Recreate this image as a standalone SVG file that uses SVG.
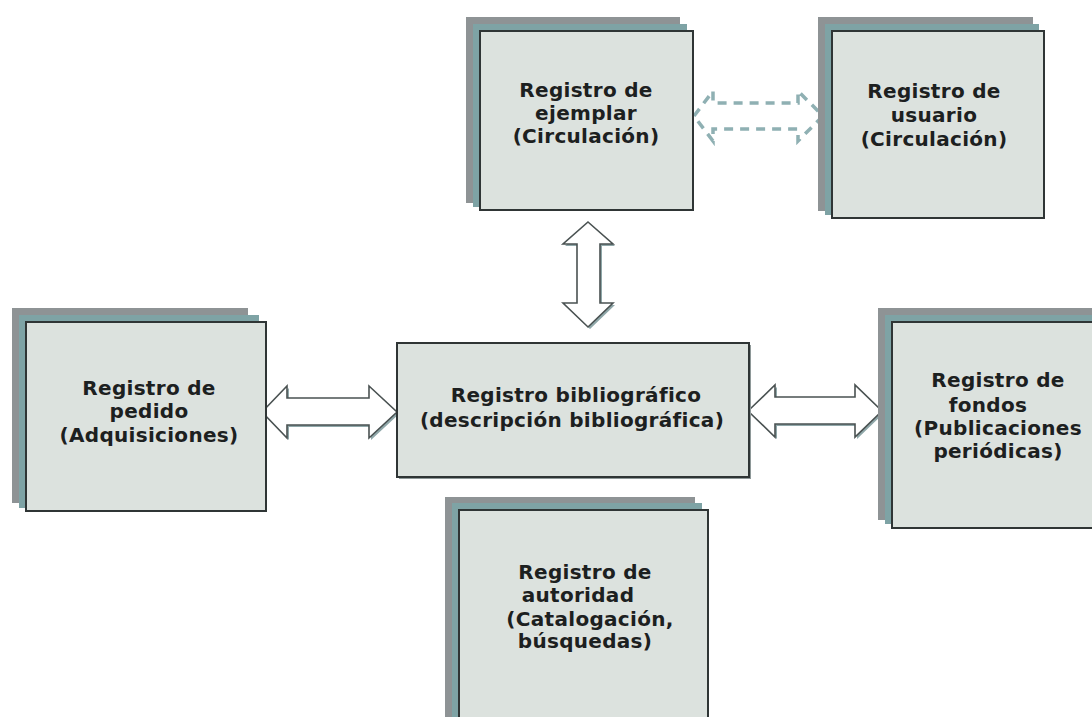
<svg xmlns="http://www.w3.org/2000/svg" width="1092" height="717" viewBox="0 0 1092 717">
<style>
.bg{fill:#ffffff}
.l1{fill:#8e9395}
.l2{fill:#7ea3a5}
.front{fill:#dce2de;stroke:#2f3535;stroke-width:2}
.t{font-family:"DejaVu Sans","Verdana",sans-serif;font-weight:bold;font-size:20px;letter-spacing:0.3px;fill:#1c2020;text-anchor:middle}
.arr{fill:#ffffff;stroke:#4a5252;stroke-width:1.6;stroke-linejoin:miter}
.arrsh{fill:#8fa7a9}
.dash{fill:none;stroke:#8fb0b3;stroke-width:3.5;stroke-dasharray:9 7}
</style>
<rect class="bg" x="0" y="0" width="1092" height="717"/>

<g id="connectors">
  <g id="arrow-vertical">
    <polygon class="arrsh" transform="translate(2,2)" points="588,222 613,244 600,244 600,303 613,303 588,327 563,303 577,303 577,244 563,244"/>
    <polygon class="arr" points="588,222 613,244 600,244 600,303 613,303 588,327 563,303 577,303 577,244 563,244"/>
  </g>
  <g id="arrow-left">
    <polygon class="arrsh" transform="translate(2,2)" points="262,412 287,386 287,398 369,398 369,386 397,412 369,438 369,425 287,425 287,438"/>
    <polygon class="arr" points="262,412 287,386 287,398 369,398 369,386 397,412 369,438 369,425 287,425 287,438"/>
  </g>
  <g id="arrow-right">
    <polygon class="arrsh" transform="translate(2,2)" points="748,411 775,385 775,397 855,397 855,385 882,411 855,437 855,424 775,424 775,437"/>
    <polygon class="arr" points="748,411 775,385 775,397 855,397 855,385 882,411 855,437 855,424 775,424 775,437"/>
  </g>
  <g id="arrow-dashed">
    <polygon class="dash" points="694,116 713,91 713,103 798,103 798,91 823,116 798,141 798,129 713,129 713,141"/>
  </g>
</g>

<g id="node-ejemplar">
  <rect class="l1" x="466" y="17" width="214" height="186"/>
  <rect class="l2" x="473" y="24" width="214" height="183"/>
  <rect class="front" x="480" y="31" width="213" height="179"/>
  <text class="t" x="586" y="97">Registro de</text>
  <text class="t" x="586" y="120">ejemplar</text>
  <text class="t" x="586" y="143">(Circulación)</text>
</g>

<g id="node-usuario">
  <rect class="l1" x="818" y="17" width="215" height="194"/>
  <rect class="l2" x="825" y="24" width="214" height="191"/>
  <rect class="front" x="832" y="31" width="212" height="187"/>
  <text class="t" x="934" y="98">Registro de</text>
  <text class="t" x="934" y="122">usuario</text>
  <text class="t" x="934" y="146">(Circulación)</text>
</g>

<g id="node-pedido">
  <rect class="l1" x="12" y="308" width="236" height="195"/>
  <rect class="l2" x="19" y="315" width="240" height="193"/>
  <rect class="front" x="26" y="322" width="240" height="189"/>
  <text class="t" x="149" y="395">Registro de</text>
  <text class="t" x="149" y="418">pedido</text>
  <text class="t" x="149" y="442">(Adquisiciones)</text>
</g>

<g id="node-bibliografico">
  <rect fill="#8e9898" x="399" y="345" width="352" height="134"/>
  <rect class="front" x="397" y="343" width="352" height="134"/>
  <text class="t" x="576" y="402">Registro bibliográfico</text>
  <text class="t" x="572" y="427">(descripción bibliográfica)</text>
</g>

<g id="node-fondos">
  <rect class="l1" x="878" y="308" width="214" height="212"/>
  <rect class="l2" x="885" y="315" width="207" height="209"/>
  <rect class="front" x="892" y="322" width="210" height="206"/>
  <text class="t" x="998" y="387">Registro de</text>
  <text class="t" x="988" y="412">fondos</text>
  <text class="t" x="998" y="435">(Publicaciones</text>
  <text class="t" x="998" y="458">periódicas)</text>
</g>

<g id="node-autoridad">
  <rect class="l1" x="445" y="497" width="250" height="230"/>
  <rect class="l2" x="452" y="503" width="250" height="230"/>
  <rect class="front" x="459" y="510" width="249" height="220"/>
  <text class="t" x="585" y="579">Registro de</text>
  <text class="t" x="578" y="602">autoridad</text>
  <text class="t" x="590" y="626">(Catalogación,</text>
  <text class="t" x="585" y="648">búsquedas)</text>
</g>
</svg>
